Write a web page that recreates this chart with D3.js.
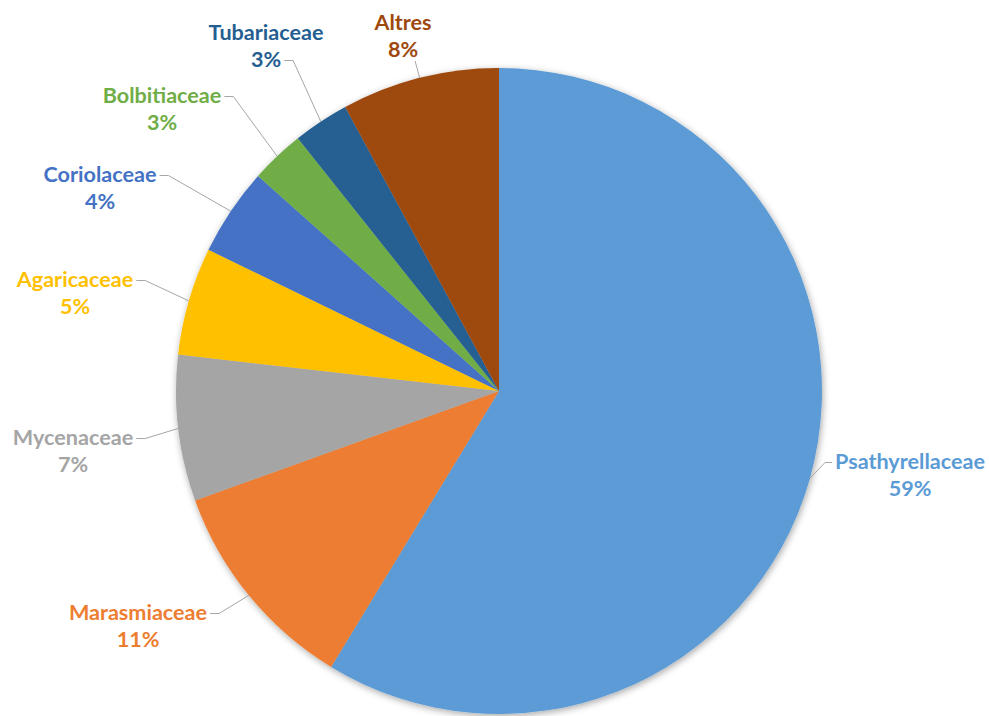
<!DOCTYPE html>
<html lang="en">
<head>
    <meta charset="UTF-8">
    <title>Families</title>
    <style>
        body { margin: 0; background: #fff; }
        text { font-family: Lato, "Open Sans", sans-serif; font-weight: bold; }
    </style>
</head>
<body>
<script src="https://d3js.org/d3.v7.min.js" type="text/javascript"></script>
<script>
    // data (percent of total)
    var families = ["Psathyrellaceae", "Marasmiaceae", "Mycenaceae", "Agaricaceae",
        "Coriolaceae", "Bolbitiaceae", "Tubariaceae", "Altres"];
    var shares = [58.7, 10.8, 7.3, 5.4, 4.4, 2.7, 2.8, 7.9];
    var pctLabels = ["59%", "11%", "7%", "5%", "4%", "3%", "3%", "8%"];
    var colors = ["#5B9BD5", "#ED7D31", "#A5A5A5", "#FFC000",
        "#4472C4", "#70AD47", "#255E91", "#9E480E"];

    // label layout: text centre x, first baseline y, where the leader joins (side, line)
    var labelLayout = [
        {x: 910, y: 469, side: "left", line: 0},
        {x: 138, y: 620, side: "right", line: 0},
        {x: 73, y: 445, side: "right", line: 0},
        {x: 75, y: 287, side: "right", line: 0},
        {x: 100, y: 182, side: "right", line: 0},
        {x: 162, y: 103, side: "right", line: 0},
        {x: 266, y: 40, side: "right", line: 1},
        {x: 403, y: 30, side: "bottom", line: 1}
    ];

    const width = 989;
    const height = 716;
    const cx = 499;
    const cy = 391;
    const radius = 323;
    const lineGap = 27;

    const svg = d3.select("body")
        .append("svg")
        .attr("width", width)
        .attr("height", height);

    var defs = svg.append("defs");
    defs.append("filter")
        .attr("id", "shadow")
        .attr("x", "-10%").attr("y", "-10%")
        .attr("width", "120%").attr("height", "120%")
        .append("feDropShadow")
        .attr("dx", 1).attr("dy", 2)
        .attr("stdDeviation", 3.5)
        .attr("flood-color", "#000")
        .attr("flood-opacity", 0.35);

    var pie = d3.pie().sort(null).value(function (d) { return d; });
    var arc = d3.arc().innerRadius(0).outerRadius(radius);
    var arcsData = pie(shares);

    var g = svg.append("g")
        .attr("transform", "translate(" + cx + "," + cy + ")");

    g.append("g")
        .attr("filter", "url(#shadow)")
        .selectAll("path")
        .data(arcsData)
        .enter()
        .append("path")
        .attr("d", arc)
        .attr("fill", function (d, i) { return colors[i]; });

    // labels
    var labels = svg.append("g");
    var fontSize = 21;

    // measure to fit width of the longest label (~150px in the picture)
    var probe = labels.append("text").attr("font-size", 100).text("Psathyrellaceae");
    var w100 = probe.node().getComputedTextLength();
    probe.remove();
    fontSize = 150 / w100 * 100;

    families.forEach(function (name, i) {
        var lay = labelLayout[i];
        var t = labels.append("text")
            .attr("text-anchor", "middle")
            .attr("font-size", fontSize)
            .attr("fill", colors[i]);
        t.append("tspan").attr("x", lay.x).attr("y", lay.y).text(name);
        t.append("tspan").attr("x", lay.x).attr("y", lay.y + lineGap).text(pctLabels[i]);

        // leader line from slice edge (mid angle) to label
        var a = (arcsData[i].startAngle + arcsData[i].endAngle) / 2;
        var ex = cx + radius * Math.sin(a);
        var ey = cy - radius * Math.cos(a);
        var tspans = t.selectAll("tspan").nodes();
        var lineW = tspans[lay.line].getComputedTextLength();
        var ly = lay.y + lay.line * lineGap - fontSize * 0.3;
        var pts;
        if (lay.side === "right") {
            var x0 = lay.x + lineW / 2 + 3;
            pts = [[x0, ly], [x0 + 9, ly], [ex, ey]];
        } else if (lay.side === "left") {
            var x1 = lay.x - lineW / 2 - 3;
            pts = [[x1, ly], [x1 - 7, ly], [ex, ey]];
        } else {
            var xb = lay.x + lineW / 2 - 3;
            pts = [[xb, lay.y + lineGap + 4], [ex, ey]];
        }
        labels.append("path")
            .attr("d", d3.line()(pts))
            .attr("fill", "none")
            .attr("stroke", "#A6A6A6")
            .attr("stroke-width", 1);
    });
</script>
</body>
</html>
